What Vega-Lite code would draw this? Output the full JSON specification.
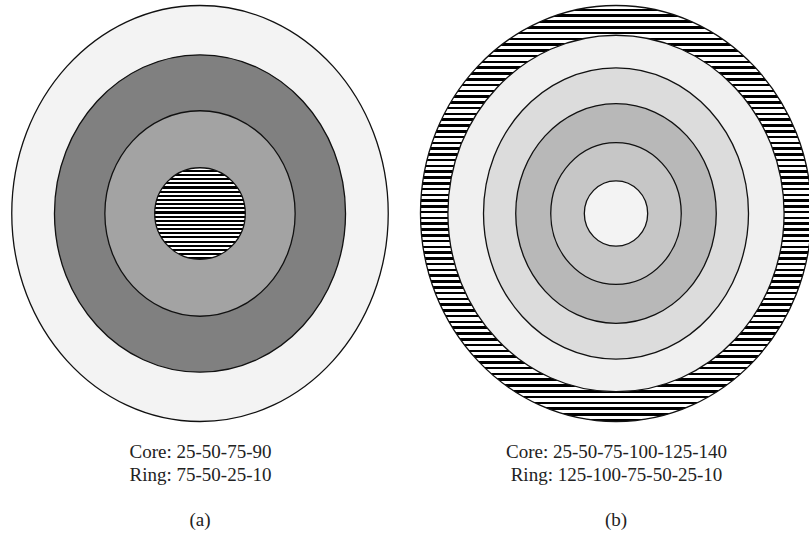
{
  "$schema": "https://vega.github.io/schema/vega-lite/v6.json",
  "padding": {"left": 6, "top": 0, "right": 0, "bottom": 0},
  "background": "white",
  "data": {"values": [
    {"panel": "a", "id": "a1", "layer": 1, "r": 100, "caption": "Core: 25-50-75-90|Ring: 75-50-25-10"},
    {"panel": "a", "id": "a2", "layer": 2, "r": 76.3, "caption": "Core: 25-50-75-90|Ring: 75-50-25-10"},
    {"panel": "a", "id": "a3", "layer": 3, "r": 49.4, "caption": "Core: 25-50-75-90|Ring: 75-50-25-10"},
    {"panel": "a", "id": "a4", "layer": 4, "r": 22.0, "caption": "Core: 25-50-75-90|Ring: 75-50-25-10"},
    {"panel": "b", "id": "b1", "layer": 1, "r": 100, "caption": "Core: 25-50-75-100-125-140|Ring: 125-100-75-50-25-10"},
    {"panel": "b", "id": "b2", "layer": 2, "r": 85.7, "caption": "Core: 25-50-75-100-125-140|Ring: 125-100-75-50-25-10"},
    {"panel": "b", "id": "b3", "layer": 3, "r": 70.0, "caption": "Core: 25-50-75-100-125-140|Ring: 125-100-75-50-25-10"},
    {"panel": "b", "id": "b4", "layer": 4, "r": 52.8, "caption": "Core: 25-50-75-100-125-140|Ring: 125-100-75-50-25-10"},
    {"panel": "b", "id": "b5", "layer": 5, "r": 34.1, "caption": "Core: 25-50-75-100-125-140|Ring: 125-100-75-50-25-10"},
    {"panel": "b", "id": "b6", "layer": 6, "r": 15.7, "caption": "Core: 25-50-75-100-125-140|Ring: 125-100-75-50-25-10"}
  ]},
  "spacing": 23,
  "facet": {
    "column": {
      "field": "panel",
      "type": "nominal",
      "header": {
        "title": null,
        "labelOrient": "bottom",
        "labelExpr": "'(' + datum.value + ')'",
        "labelFont": "Liberation Serif",
        "labelFontSize": 19,
        "labelColor": "#222",
        "labelPadding": 26
      }
    }
  },
  "resolve": {"scale": {"x": "independent"}, "axis": {"x": "independent"}},
  "spec": {
    "width": 388,
    "height": 427,
    "mark": {"type": "point", "filled": true, "stroke": "#111", "strokeWidth": 1.3, "opacity": 1},
    "encoding": {
      "x": {
        "field": "caption",
        "type": "nominal",
        "axis": {
          "title": null,
          "domain": false,
          "ticks": false,
          "tickSize": 0,
          "labelAngle": 0,
          "labelPadding": 15,
          "labelLimit": 500,
          "labelFont": "Liberation Serif",
          "labelFontSize": 19,
          "labelLineHeight": 23.5,
          "labelColor": "#222",
          "labelExpr": "split(datum.value, '|')"
        }
      },
      "size": {"field": "r", "type": "quantitative", "scale": {"type": "pow", "exponent": 2, "domain": [0, 100], "range": [0, 173056]}, "legend": null},
      "shape": {"field": "id", "type": "nominal", "scale": {"domain": ["a1", "a2", "a3", "a4", "b1", "b2", "b3", "b4", "b5", "b6"], "range": [
        "M -0.905 0 A 0.905 1 0 1 0 0.905 0 A 0.905 1 0 1 0 -0.905 0 Z",
        "M -0.917 0 A 0.917 1 0 1 0 0.917 0 A 0.917 1 0 1 0 -0.917 0 Z",
        "M -0.926 0 A 0.926 1 0 1 0 0.926 0 A 0.926 1 0 1 0 -0.926 0 Z",
        "M -0.99 0 A 0.99 1 0 1 0 0.99 0 A 0.99 1 0 1 0 -0.99 0 Z",
        "M -0.94 0 A 0.94 1 0 1 0 0.94 0 A 0.94 1 0 1 0 -0.94 0 Z",
        "M -0.943 0 A 0.943 1 0 1 0 0.943 0 A 0.943 1 0 1 0 -0.943 0 Z",
        "M -0.91 0 A 0.91 1 0 1 0 0.91 0 A 0.91 1 0 1 0 -0.91 0 Z",
        "M -0.913 0 A 0.913 1 0 1 0 0.913 0 A 0.913 1 0 1 0 -0.913 0 Z",
        "M -0.92 0 A 0.92 1 0 1 0 0.92 0 A 0.92 1 0 1 0 -0.92 0 Z",
        "M -0.97 0 A 0.97 1 0 1 0 0.97 0 A 0.97 1 0 1 0 -0.97 0 Z"
      ]}, "legend": null},
      "fill": {
        "condition": [
          {"test": "datum.id === 'a4'", "value": {"gradient": "linear", "x1": 0, "y1": 0, "x2": 0, "y2": 1, "stops": [
            {"offset": 0, "color": "#fff"}, {"offset": 0.0227, "color": "#fff"}, {"offset": 0.0227, "color": "#000"}, {"offset": 0.0455, "color": "#000"},
            {"offset": 0.0455, "color": "#fff"}, {"offset": 0.0682, "color": "#fff"}, {"offset": 0.0682, "color": "#000"}, {"offset": 0.0909, "color": "#000"},
            {"offset": 0.0909, "color": "#fff"}, {"offset": 0.1136, "color": "#fff"}, {"offset": 0.1136, "color": "#000"}, {"offset": 0.1364, "color": "#000"},
            {"offset": 0.1364, "color": "#fff"}, {"offset": 0.1591, "color": "#fff"}, {"offset": 0.1591, "color": "#000"}, {"offset": 0.1818, "color": "#000"},
            {"offset": 0.1818, "color": "#fff"}, {"offset": 0.2045, "color": "#fff"}, {"offset": 0.2045, "color": "#000"}, {"offset": 0.2273, "color": "#000"},
            {"offset": 0.2273, "color": "#fff"}, {"offset": 0.25, "color": "#fff"}, {"offset": 0.25, "color": "#000"}, {"offset": 0.2727, "color": "#000"},
            {"offset": 0.2727, "color": "#fff"}, {"offset": 0.2955, "color": "#fff"}, {"offset": 0.2955, "color": "#000"}, {"offset": 0.3182, "color": "#000"},
            {"offset": 0.3182, "color": "#fff"}, {"offset": 0.3409, "color": "#fff"}, {"offset": 0.3409, "color": "#000"}, {"offset": 0.3636, "color": "#000"},
            {"offset": 0.3636, "color": "#fff"}, {"offset": 0.3864, "color": "#fff"}, {"offset": 0.3864, "color": "#000"}, {"offset": 0.4091, "color": "#000"},
            {"offset": 0.4091, "color": "#fff"}, {"offset": 0.4318, "color": "#fff"}, {"offset": 0.4318, "color": "#000"}, {"offset": 0.4545, "color": "#000"},
            {"offset": 0.4545, "color": "#fff"}, {"offset": 0.4773, "color": "#fff"}, {"offset": 0.4773, "color": "#000"}, {"offset": 0.5, "color": "#000"},
            {"offset": 0.5, "color": "#fff"}, {"offset": 0.5227, "color": "#fff"}, {"offset": 0.5227, "color": "#000"}, {"offset": 0.5455, "color": "#000"},
            {"offset": 0.5455, "color": "#fff"}, {"offset": 0.5682, "color": "#fff"}, {"offset": 0.5682, "color": "#000"}, {"offset": 0.5909, "color": "#000"},
            {"offset": 0.5909, "color": "#fff"}, {"offset": 0.6136, "color": "#fff"}, {"offset": 0.6136, "color": "#000"}, {"offset": 0.6364, "color": "#000"},
            {"offset": 0.6364, "color": "#fff"}, {"offset": 0.6591, "color": "#fff"}, {"offset": 0.6591, "color": "#000"}, {"offset": 0.6818, "color": "#000"},
            {"offset": 0.6818, "color": "#fff"}, {"offset": 0.7045, "color": "#fff"}, {"offset": 0.7045, "color": "#000"}, {"offset": 0.7273, "color": "#000"},
            {"offset": 0.7273, "color": "#fff"}, {"offset": 0.75, "color": "#fff"}, {"offset": 0.75, "color": "#000"}, {"offset": 0.7727, "color": "#000"},
            {"offset": 0.7727, "color": "#fff"}, {"offset": 0.7955, "color": "#fff"}, {"offset": 0.7955, "color": "#000"}, {"offset": 0.8182, "color": "#000"},
            {"offset": 0.8182, "color": "#fff"}, {"offset": 0.8409, "color": "#fff"}, {"offset": 0.8409, "color": "#000"}, {"offset": 0.8636, "color": "#000"},
            {"offset": 0.8636, "color": "#fff"}, {"offset": 0.8864, "color": "#fff"}, {"offset": 0.8864, "color": "#000"}, {"offset": 0.9091, "color": "#000"},
            {"offset": 0.9091, "color": "#fff"}, {"offset": 0.9318, "color": "#fff"}, {"offset": 0.9318, "color": "#000"}, {"offset": 0.9545, "color": "#000"},
            {"offset": 0.9545, "color": "#fff"}, {"offset": 0.9773, "color": "#fff"}, {"offset": 0.9773, "color": "#000"}, {"offset": 1, "color": "#000"}
          ]}},
          {"test": "datum.id === 'b1'", "value": {"gradient": "linear", "x1": 0, "y1": 0, "x2": 0, "y2": 1, "stops": [
            {"offset": 0, "color": "#fff"}, {"offset": 0.0076, "color": "#fff"}, {"offset": 0.0076, "color": "#000"}, {"offset": 0.0139, "color": "#000"},
            {"offset": 0.0139, "color": "#fff"}, {"offset": 0.0215, "color": "#fff"}, {"offset": 0.0215, "color": "#000"}, {"offset": 0.0278, "color": "#000"},
            {"offset": 0.0278, "color": "#fff"}, {"offset": 0.0354, "color": "#fff"}, {"offset": 0.0354, "color": "#000"}, {"offset": 0.0417, "color": "#000"},
            {"offset": 0.0417, "color": "#fff"}, {"offset": 0.0493, "color": "#fff"}, {"offset": 0.0493, "color": "#000"}, {"offset": 0.0556, "color": "#000"},
            {"offset": 0.0556, "color": "#fff"}, {"offset": 0.0632, "color": "#fff"}, {"offset": 0.0632, "color": "#000"}, {"offset": 0.0694, "color": "#000"},
            {"offset": 0.0694, "color": "#fff"}, {"offset": 0.077, "color": "#fff"}, {"offset": 0.077, "color": "#000"}, {"offset": 0.0833, "color": "#000"},
            {"offset": 0.0833, "color": "#fff"}, {"offset": 0.0909, "color": "#fff"}, {"offset": 0.0909, "color": "#000"}, {"offset": 0.0972, "color": "#000"},
            {"offset": 0.0972, "color": "#fff"}, {"offset": 0.1048, "color": "#fff"}, {"offset": 0.1048, "color": "#000"}, {"offset": 0.1111, "color": "#000"},
            {"offset": 0.1111, "color": "#fff"}, {"offset": 0.1187, "color": "#fff"}, {"offset": 0.1187, "color": "#000"}, {"offset": 0.125, "color": "#000"},
            {"offset": 0.125, "color": "#fff"}, {"offset": 0.1326, "color": "#fff"}, {"offset": 0.1326, "color": "#000"}, {"offset": 0.1389, "color": "#000"},
            {"offset": 0.1389, "color": "#fff"}, {"offset": 0.1465, "color": "#fff"}, {"offset": 0.1465, "color": "#000"}, {"offset": 0.1528, "color": "#000"},
            {"offset": 0.1528, "color": "#fff"}, {"offset": 0.1604, "color": "#fff"}, {"offset": 0.1604, "color": "#000"}, {"offset": 0.1667, "color": "#000"},
            {"offset": 0.1667, "color": "#fff"}, {"offset": 0.1743, "color": "#fff"}, {"offset": 0.1743, "color": "#000"}, {"offset": 0.1806, "color": "#000"},
            {"offset": 0.1806, "color": "#fff"}, {"offset": 0.1882, "color": "#fff"}, {"offset": 0.1882, "color": "#000"}, {"offset": 0.1944, "color": "#000"},
            {"offset": 0.1944, "color": "#fff"}, {"offset": 0.202, "color": "#fff"}, {"offset": 0.202, "color": "#000"}, {"offset": 0.2083, "color": "#000"},
            {"offset": 0.2083, "color": "#fff"}, {"offset": 0.2159, "color": "#fff"}, {"offset": 0.2159, "color": "#000"}, {"offset": 0.2222, "color": "#000"},
            {"offset": 0.2222, "color": "#fff"}, {"offset": 0.2298, "color": "#fff"}, {"offset": 0.2298, "color": "#000"}, {"offset": 0.2361, "color": "#000"},
            {"offset": 0.2361, "color": "#fff"}, {"offset": 0.2437, "color": "#fff"}, {"offset": 0.2437, "color": "#000"}, {"offset": 0.25, "color": "#000"},
            {"offset": 0.25, "color": "#fff"}, {"offset": 0.2576, "color": "#fff"}, {"offset": 0.2576, "color": "#000"}, {"offset": 0.2639, "color": "#000"},
            {"offset": 0.2639, "color": "#fff"}, {"offset": 0.2715, "color": "#fff"}, {"offset": 0.2715, "color": "#000"}, {"offset": 0.2778, "color": "#000"},
            {"offset": 0.2778, "color": "#fff"}, {"offset": 0.2854, "color": "#fff"}, {"offset": 0.2854, "color": "#000"}, {"offset": 0.2917, "color": "#000"},
            {"offset": 0.2917, "color": "#fff"}, {"offset": 0.2993, "color": "#fff"}, {"offset": 0.2993, "color": "#000"}, {"offset": 0.3056, "color": "#000"},
            {"offset": 0.3056, "color": "#fff"}, {"offset": 0.3132, "color": "#fff"}, {"offset": 0.3132, "color": "#000"}, {"offset": 0.3194, "color": "#000"},
            {"offset": 0.3194, "color": "#fff"}, {"offset": 0.327, "color": "#fff"}, {"offset": 0.327, "color": "#000"}, {"offset": 0.3333, "color": "#000"},
            {"offset": 0.3333, "color": "#fff"}, {"offset": 0.3409, "color": "#fff"}, {"offset": 0.3409, "color": "#000"}, {"offset": 0.3472, "color": "#000"},
            {"offset": 0.3472, "color": "#fff"}, {"offset": 0.3548, "color": "#fff"}, {"offset": 0.3548, "color": "#000"}, {"offset": 0.3611, "color": "#000"},
            {"offset": 0.3611, "color": "#fff"}, {"offset": 0.3687, "color": "#fff"}, {"offset": 0.3687, "color": "#000"}, {"offset": 0.375, "color": "#000"},
            {"offset": 0.375, "color": "#fff"}, {"offset": 0.3826, "color": "#fff"}, {"offset": 0.3826, "color": "#000"}, {"offset": 0.3889, "color": "#000"},
            {"offset": 0.3889, "color": "#fff"}, {"offset": 0.3965, "color": "#fff"}, {"offset": 0.3965, "color": "#000"}, {"offset": 0.4028, "color": "#000"},
            {"offset": 0.4028, "color": "#fff"}, {"offset": 0.4104, "color": "#fff"}, {"offset": 0.4104, "color": "#000"}, {"offset": 0.4167, "color": "#000"},
            {"offset": 0.4167, "color": "#fff"}, {"offset": 0.4243, "color": "#fff"}, {"offset": 0.4243, "color": "#000"}, {"offset": 0.4306, "color": "#000"},
            {"offset": 0.4306, "color": "#fff"}, {"offset": 0.4382, "color": "#fff"}, {"offset": 0.4382, "color": "#000"}, {"offset": 0.4444, "color": "#000"},
            {"offset": 0.4444, "color": "#fff"}, {"offset": 0.452, "color": "#fff"}, {"offset": 0.452, "color": "#000"}, {"offset": 0.4583, "color": "#000"},
            {"offset": 0.4583, "color": "#fff"}, {"offset": 0.4659, "color": "#fff"}, {"offset": 0.4659, "color": "#000"}, {"offset": 0.4722, "color": "#000"},
            {"offset": 0.4722, "color": "#fff"}, {"offset": 0.4798, "color": "#fff"}, {"offset": 0.4798, "color": "#000"}, {"offset": 0.4861, "color": "#000"},
            {"offset": 0.4861, "color": "#fff"}, {"offset": 0.4937, "color": "#fff"}, {"offset": 0.4937, "color": "#000"}, {"offset": 0.5, "color": "#000"},
            {"offset": 0.5, "color": "#fff"}, {"offset": 0.5076, "color": "#fff"}, {"offset": 0.5076, "color": "#000"}, {"offset": 0.5139, "color": "#000"},
            {"offset": 0.5139, "color": "#fff"}, {"offset": 0.5215, "color": "#fff"}, {"offset": 0.5215, "color": "#000"}, {"offset": 0.5278, "color": "#000"},
            {"offset": 0.5278, "color": "#fff"}, {"offset": 0.5354, "color": "#fff"}, {"offset": 0.5354, "color": "#000"}, {"offset": 0.5417, "color": "#000"},
            {"offset": 0.5417, "color": "#fff"}, {"offset": 0.5493, "color": "#fff"}, {"offset": 0.5493, "color": "#000"}, {"offset": 0.5556, "color": "#000"},
            {"offset": 0.5556, "color": "#fff"}, {"offset": 0.5632, "color": "#fff"}, {"offset": 0.5632, "color": "#000"}, {"offset": 0.5694, "color": "#000"},
            {"offset": 0.5694, "color": "#fff"}, {"offset": 0.577, "color": "#fff"}, {"offset": 0.577, "color": "#000"}, {"offset": 0.5833, "color": "#000"},
            {"offset": 0.5833, "color": "#fff"}, {"offset": 0.5909, "color": "#fff"}, {"offset": 0.5909, "color": "#000"}, {"offset": 0.5972, "color": "#000"},
            {"offset": 0.5972, "color": "#fff"}, {"offset": 0.6048, "color": "#fff"}, {"offset": 0.6048, "color": "#000"}, {"offset": 0.6111, "color": "#000"},
            {"offset": 0.6111, "color": "#fff"}, {"offset": 0.6187, "color": "#fff"}, {"offset": 0.6187, "color": "#000"}, {"offset": 0.625, "color": "#000"},
            {"offset": 0.625, "color": "#fff"}, {"offset": 0.6326, "color": "#fff"}, {"offset": 0.6326, "color": "#000"}, {"offset": 0.6389, "color": "#000"},
            {"offset": 0.6389, "color": "#fff"}, {"offset": 0.6465, "color": "#fff"}, {"offset": 0.6465, "color": "#000"}, {"offset": 0.6528, "color": "#000"},
            {"offset": 0.6528, "color": "#fff"}, {"offset": 0.6604, "color": "#fff"}, {"offset": 0.6604, "color": "#000"}, {"offset": 0.6667, "color": "#000"},
            {"offset": 0.6667, "color": "#fff"}, {"offset": 0.6743, "color": "#fff"}, {"offset": 0.6743, "color": "#000"}, {"offset": 0.6806, "color": "#000"},
            {"offset": 0.6806, "color": "#fff"}, {"offset": 0.6882, "color": "#fff"}, {"offset": 0.6882, "color": "#000"}, {"offset": 0.6944, "color": "#000"},
            {"offset": 0.6944, "color": "#fff"}, {"offset": 0.702, "color": "#fff"}, {"offset": 0.702, "color": "#000"}, {"offset": 0.7083, "color": "#000"},
            {"offset": 0.7083, "color": "#fff"}, {"offset": 0.7159, "color": "#fff"}, {"offset": 0.7159, "color": "#000"}, {"offset": 0.7222, "color": "#000"},
            {"offset": 0.7222, "color": "#fff"}, {"offset": 0.7298, "color": "#fff"}, {"offset": 0.7298, "color": "#000"}, {"offset": 0.7361, "color": "#000"},
            {"offset": 0.7361, "color": "#fff"}, {"offset": 0.7437, "color": "#fff"}, {"offset": 0.7437, "color": "#000"}, {"offset": 0.75, "color": "#000"},
            {"offset": 0.75, "color": "#fff"}, {"offset": 0.7576, "color": "#fff"}, {"offset": 0.7576, "color": "#000"}, {"offset": 0.7639, "color": "#000"},
            {"offset": 0.7639, "color": "#fff"}, {"offset": 0.7715, "color": "#fff"}, {"offset": 0.7715, "color": "#000"}, {"offset": 0.7778, "color": "#000"},
            {"offset": 0.7778, "color": "#fff"}, {"offset": 0.7854, "color": "#fff"}, {"offset": 0.7854, "color": "#000"}, {"offset": 0.7917, "color": "#000"},
            {"offset": 0.7917, "color": "#fff"}, {"offset": 0.7993, "color": "#fff"}, {"offset": 0.7993, "color": "#000"}, {"offset": 0.8056, "color": "#000"},
            {"offset": 0.8056, "color": "#fff"}, {"offset": 0.8132, "color": "#fff"}, {"offset": 0.8132, "color": "#000"}, {"offset": 0.8194, "color": "#000"},
            {"offset": 0.8194, "color": "#fff"}, {"offset": 0.827, "color": "#fff"}, {"offset": 0.827, "color": "#000"}, {"offset": 0.8333, "color": "#000"},
            {"offset": 0.8333, "color": "#fff"}, {"offset": 0.8409, "color": "#fff"}, {"offset": 0.8409, "color": "#000"}, {"offset": 0.8472, "color": "#000"},
            {"offset": 0.8472, "color": "#fff"}, {"offset": 0.8548, "color": "#fff"}, {"offset": 0.8548, "color": "#000"}, {"offset": 0.8611, "color": "#000"},
            {"offset": 0.8611, "color": "#fff"}, {"offset": 0.8687, "color": "#fff"}, {"offset": 0.8687, "color": "#000"}, {"offset": 0.875, "color": "#000"},
            {"offset": 0.875, "color": "#fff"}, {"offset": 0.8826, "color": "#fff"}, {"offset": 0.8826, "color": "#000"}, {"offset": 0.8889, "color": "#000"},
            {"offset": 0.8889, "color": "#fff"}, {"offset": 0.8965, "color": "#fff"}, {"offset": 0.8965, "color": "#000"}, {"offset": 0.9028, "color": "#000"},
            {"offset": 0.9028, "color": "#fff"}, {"offset": 0.9104, "color": "#fff"}, {"offset": 0.9104, "color": "#000"}, {"offset": 0.9167, "color": "#000"},
            {"offset": 0.9167, "color": "#fff"}, {"offset": 0.9243, "color": "#fff"}, {"offset": 0.9243, "color": "#000"}, {"offset": 0.9306, "color": "#000"},
            {"offset": 0.9306, "color": "#fff"}, {"offset": 0.9382, "color": "#fff"}, {"offset": 0.9382, "color": "#000"}, {"offset": 0.9444, "color": "#000"},
            {"offset": 0.9444, "color": "#fff"}, {"offset": 0.952, "color": "#fff"}, {"offset": 0.952, "color": "#000"}, {"offset": 0.9583, "color": "#000"},
            {"offset": 0.9583, "color": "#fff"}, {"offset": 0.9659, "color": "#fff"}, {"offset": 0.9659, "color": "#000"}, {"offset": 0.9722, "color": "#000"},
            {"offset": 0.9722, "color": "#fff"}, {"offset": 0.9798, "color": "#fff"}, {"offset": 0.9798, "color": "#000"}, {"offset": 0.9861, "color": "#000"},
            {"offset": 0.9861, "color": "#fff"}, {"offset": 0.9937, "color": "#fff"}, {"offset": 0.9937, "color": "#000"}, {"offset": 1, "color": "#000"}
          ]}}
        ],
        "field": "id",
        "type": "nominal",
        "scale": {"domain": ["a1", "a2", "a3", "a4", "b1", "b2", "b3", "b4", "b5", "b6"], "range": ["#f3f3f3", "#808080", "#a3a3a3", "#7a7a7a", "#9c9c9c", "#f0f0f0", "#dcdcdc", "#b8b8b8", "#c6c6c6", "#f3f3f3"]},
        "legend": null
      },
      "order": {"field": "layer", "type": "quantitative"}
    }
  },
  "config": {"view": {"stroke": null}}
}
